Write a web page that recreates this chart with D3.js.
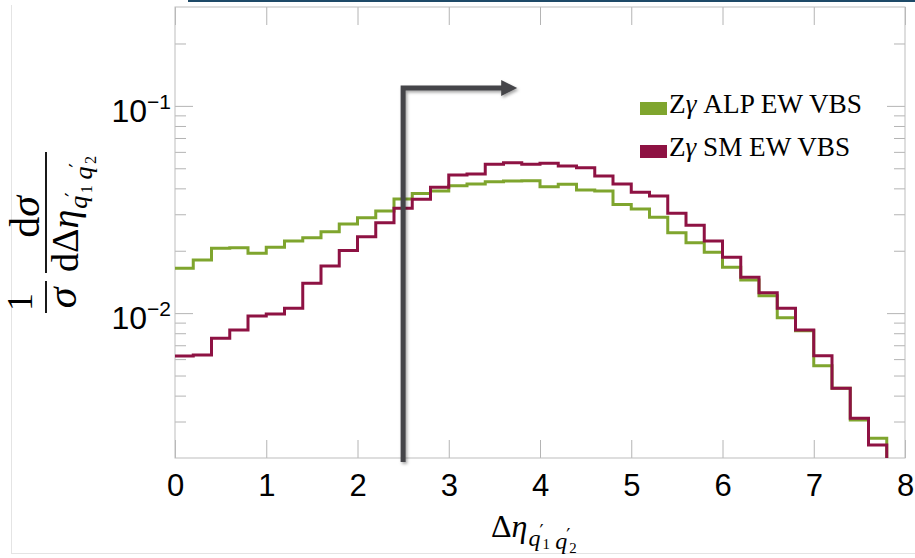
<!DOCTYPE html>
<html><head><meta charset="utf-8">
<script src="https://cdn.jsdelivr.net/npm/d3@7/dist/d3.min.js"></script>
<style>body{margin:0;background:#fff}svg{display:block}</style>
</head><body>
<svg id="c" width="915" height="558"></svg>
<script>
// ---- data ----
const binStart = [0,0.2,0.4,0.6,0.8,1.0,1.2,1.4,1.6,1.8,2.0,2.2,2.4,2.6,2.8,3.0,3.2,3.4,3.6,3.8,
                  4.0,4.2,4.4,4.6,4.8,5.0,5.2,5.4,5.6,5.8,6.0,6.2,6.4,6.6,6.8,7.0,7.2,7.4,7.6,7.8];
const binWidth = 0.2;
const alpValues = [0.01646,0.01805,0.02055,0.02069,0.01944,0.02078,0.02229,0.02312,0.02470,0.02692,
                   0.02888,0.03109,0.03553,0.03778,0.03884,0.04119,0.04199,0.04308,0.04341,0.04356,
                   0.04074,0.04185,0.03927,0.03884,0.03342,0.03180,0.02900,0.02441,0.02187,0.01965,
                   0.01664,0.01445,0.01214,0.00950,0.00823,0.00558,0.00434,0.00305,0.00249,null];
const smValues  = [0.00621,0.00628,0.00756,0.00829,0.00968,0.00990,0.01055,0.01393,0.01688,0.02005,
                   0.02337,0.02731,0.03205,0.03541,0.04046,0.04640,0.04691,0.05226,0.05320,0.05226,
                   0.05285,0.05126,0.05030,0.04589,0.04199,0.03829,0.03675,0.03032,0.02654,0.02229,
                   0.01860,0.01489,0.01255,0.01055,0.00829,0.00623,0.00434,0.00311,0.00231,null];
const seriesNames  = ["ALP EW VBS", "SM EW VBS"];
const seriesColors = ["#7fa52e", "#8e1243"];
const xTickValues = [0,1,2,3,4,5,6,7,8];
const yMajorTicks = [0.01, 0.1];
const yMajorExp   = ["\u22122", "\u22121"];
const yMinorTicks = [0.003,0.004,0.005,0.006,0.007,0.008,0.009,0.02,0.03,0.04,0.05,0.06,0.07,0.08,0.09,0.2];
const xDomain = [0, 8];
const yDomain = [0.002, 0.3];
const cutValue = 2.5, arrowEnd = 3.75, arrowLevel = 0.122;

// ---- layout ----
const L = 175, R = 905, T = 7, B = 458;
const svg = d3.select("#c");
const x = d3.scaleLinear().domain(xDomain).range([L, R]);
const y = d3.scaleLog().domain(yDomain).range([B, T]);

const defs = svg.append("defs");
defs.append("clipPath").attr("id","plot").append("rect")
  .attr("x", L).attr("y", T).attr("width", R-L).attr("height", B-T);
const f = defs.append("filter").attr("id","sh").attr("x","-20%").attr("y","-20%").attr("width","140%").attr("height","140%");
f.append("feDropShadow").attr("dx",1.5).attr("dy",2).attr("stdDeviation",1.6)
  .attr("flood-color","#000").attr("flood-opacity",0.35);

// page decorations
svg.append("rect").attr("x",188).attr("y",0).attr("width",727).attr("height",2).attr("fill","#1e4a68");
svg.append("line").attr("x1",11.5).attr("x2",11.5).attr("y1",5).attr("y2",553).attr("stroke","#e4e4e4");
svg.append("line").attr("x1",11).attr("x2",915).attr("y1",553.5).attr("y2",553.5).attr("stroke","#e4e4e4");

// ---- axes / frame ----
const sans = "'Liberation Sans',Arial,sans-serif";
const tickCol = "#b4b4b4";
function styleAxis(g){ g.select(".domain").remove(); g.selectAll(".tick line").attr("stroke",tickCol); }
svg.append("g").attr("transform",`translate(0,${B})`)
  .call(d3.axisBottom(x).tickValues(xTickValues).tickSize(-18).tickPadding(16).tickFormat(d3.format("d")))
  .call(styleAxis)
  .call(g=>g.selectAll("text").attr("font-family",sans).attr("font-size",31).attr("fill","#000"));
svg.append("g").attr("transform",`translate(0,${T})`)
  .call(d3.axisTop(x).tickValues(xTickValues).tickSize(-18).tickFormat(""))
  .call(styleAxis);
[[d3.axisLeft, L],[d3.axisRight, R]].forEach(([ax, pos])=>{
  svg.append("g").attr("transform",`translate(${pos},0)`)
    .call(ax(y).tickValues(yMajorTicks).tickSize(-18).tickFormat("")).call(styleAxis);
  svg.append("g").attr("transform",`translate(${pos},0)`)
    .call(ax(y).tickValues(yMinorTicks).tickSize(-11).tickFormat("")).call(styleAxis);
});
svg.append("rect").attr("x",L).attr("y",T).attr("width",R-L).attr("height",B-T)
  .attr("fill","none").attr("stroke","#bdbdbd").attr("stroke-width",1);

// y tick labels 10^n
yMajorTicks.forEach((v,i)=>{
  const t = svg.append("text").attr("x",171).attr("y",y(v)+16).attr("text-anchor","end")
    .attr("font-family",sans).attr("font-size",32).attr("fill","#000");
  t.append("tspan").text("10");
  t.append("tspan").attr("dy",-13).attr("font-size",21).text(yMajorExp[i]);
});

// ---- histograms ----
const line = d3.line().x(d=>x(d[0])).y(d=>y(d[1])).curve(d3.curveStepAfter);
function pts(vals){
  const p = [];
  let last = -1;
  vals.forEach((v,i)=>{ if(v!=null){ p.push([binStart[i], v]); last = i; } });
  p.push([binStart[last]+binWidth, vals[last]]);
  p.push([binStart[last]+binWidth, yDomain[0]]);
  return p;
}
const gp = svg.append("g").attr("clip-path","url(#plot)");
[alpValues, smValues].forEach((vals,k)=>{
  gp.append("path").attr("d", line(pts(vals))).attr("fill","none")
    .attr("stroke", seriesColors[k]).attr("stroke-width",3).attr("stroke-linejoin","miter");
});

// ---- cut arrow ----
const xa = x(cutValue), ya = y(arrowLevel), xe = x(arrowEnd);
const ga = svg.append("g").attr("filter","url(#sh)");
ga.append("path").attr("d",`M${xa},${B+4}V${ya}H${xe-14}`).attr("fill","none")
  .attr("stroke","#444448").attr("stroke-width",5).attr("stroke-linejoin","miter");
ga.append("path").attr("d",`M${xe},${ya}L${xe-16},${ya-8}L${xe-16},${ya+8}Z`).attr("fill","#444448");

// ---- legend ----
const serif = "'Liberation Serif','Times New Roman',serif";
const legendLen = [193, 181];
seriesNames.forEach((n,i)=>{
  const yy = 102 + i*43;
  svg.append("rect").attr("x",640).attr("y",yy).attr("width",27).attr("height",13).attr("fill",seriesColors[i]);
  const t = svg.append("text").attr("x",669).attr("y",yy+11).attr("font-family",serif).attr("font-size",28).attr("fill","#000")
    .attr("textLength",legendLen[i]).attr("lengthAdjust","spacingAndGlyphs");
  t.append("tspan").text("Z");
  t.append("tspan").attr("font-style","italic").text("\u03b3");
  t.append("tspan").text(" " + n);
});

// subscript q'_1 q'_2 (prime raised, index lowered)
function subQ(t, idx, fs, first){
  t.append("tspan").attr("font-style","italic").attr("font-size",fs)
    .attr("dy", first ? fs*0.36 : 0).attr("dx", first ? 1 : fs*0.22).text("q");
  t.append("tspan").attr("font-family","'DejaVu Serif',serif").attr("font-size",fs*0.75)
    .attr("dy",-fs*0.3).attr("dx",-1).text("\u2032");
  t.append("tspan").attr("font-size",fs*0.62).attr("dy",fs*0.46).attr("dx",-1).text(idx);
  t.append("tspan").attr("font-size",fs).attr("dy",-fs*0.16).text("");
}

// ---- x title ----
const xt = svg.append("text").attr("x",491).attr("y",537).attr("font-family",serif).attr("font-size",32).attr("fill","#000");
xt.append("tspan").text("\u0394");
xt.append("tspan").attr("font-style","italic").text("\u03b7");
subQ(xt,"1",24,true); subQ(xt,"2",24,false);

// ---- y title (rotated fraction) ----
const gy = svg.append("g").attr("transform","translate(46,232) rotate(-90)")
  .attr("font-family",serif).attr("fill","#000");
gy.append("text").attr("x",-70).attr("y",-14).attr("text-anchor","middle").attr("font-size",36).text("1");
gy.append("line").attr("x1",-81).attr("x2",-49).attr("y1",0).attr("y2",0).attr("stroke","#000").attr("stroke-width",1.8);
gy.append("text").attr("x",-66).attr("y",30).attr("text-anchor","middle").attr("font-size",42).attr("font-style","italic").text("\u03c3");
const num = gy.append("text").attr("x",15).attr("y",-7).attr("text-anchor","middle").attr("font-size",42);
num.append("tspan").text("d"); num.append("tspan").attr("font-style","italic").text("\u03c3");
gy.append("line").attr("x1",-41).attr("x2",80).attr("y1",0).attr("y2",0).attr("stroke","#000").attr("stroke-width",1.8);
const den = gy.append("text").attr("x",-40).attr("y",32).attr("font-size",38);
den.append("tspan").text("d\u0394");
den.append("tspan").attr("font-style","italic").text("\u03b7");
subQ(den,"1",26,true); subQ(den,"2",26,false);
</script>
</body></html>
